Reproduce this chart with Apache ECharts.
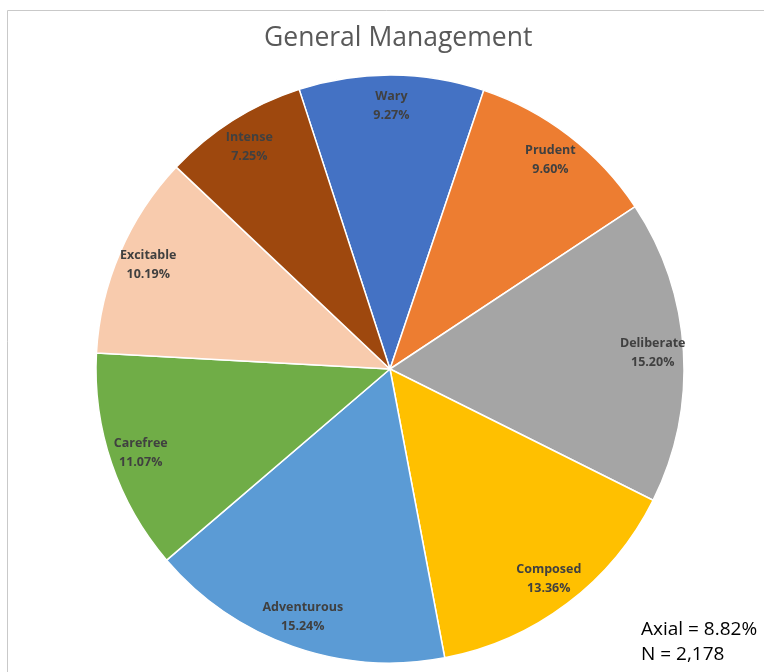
<!DOCTYPE html>
<html>
<head>
<meta charset="utf-8">
<script src="https://cdn.jsdelivr.net/npm/echarts@6/dist/echarts.min.js"></script>
<style>
  html, body { margin: 0; padding: 0; background: #fff; }
  #chart { width: 764px; height: 672px; }
</style>
</head>
<body>
<div id="chart"></div>
<script>
// slices, clockwise from the top
const categories = ['Wary', 'Prudent', 'Deliberate', 'Composed', 'Adventurous', 'Carefree', 'Excitable', 'Intense']
const values = [9.27, 9.60, 15.20, 13.36, 15.24, 11.07, 10.19, 7.25]
const colors = ['#4472C4', '#ED7D31', '#A5A5A5', '#FFC000', '#5B9BD5', '#70AD47', '#F8CBAD', '#9E480E']
const notes = ['Axial = 8.82%', 'N = 2,178']

const chart = echarts.init(document.getElementById('chart'))

const center = [390, 369]
const R = 294
const pieData = categories.map((name, i) => ({ name, value: values[i], itemStyle: { color: colors[i] } }))

const option = {
  animation: false,
  title: {
    text: 'General Management',
    left: 259,
    top: 20,
    textStyle: {
      fontFamily: 'Open Sans',
      fontSize: 26.5,
      fontWeight: 'normal',
      color: '#595959'
    }
  },
  graphic: [
    {
      type: 'rect',
      shape: { x: 7.5, y: 10.5, width: 800, height: 700 },
      style: { fill: 'none', stroke: '#c9c9c9', lineWidth: 1 }
    },
    {
      type: 'text',
      left: 641,
      top: 617,
      style: {
        text: notes.join('\n'),
        font: '19px "Open Sans"',
        lineHeight: 25,
        fill: '#000'
      }
    }
  ],
  series: [
    {
      type: 'pie',
      center,
      radius: R,
      startAngle: 108,
      clockwise: true,
      data: pieData,
      label: { show: false },
      labelLine: { show: false },
      itemStyle: { borderColor: '#fff', borderWidth: 1.5 },
      emphasis: { disabled: true }
    },
    {
      // transparent ring just to place labels near the rim
      type: 'pie',
      center,
      radius: [R * 0.77, R],
      startAngle: 108,
      clockwise: true,
      silent: true,
      data: pieData.map(d => ({ name: d.name, value: d.value, itemStyle: { color: 'transparent' } })),
      itemStyle: { borderWidth: 0 },
      label: {
        show: true,
        position: 'inside',
        formatter: (p) => p.name + '\n' + p.value.toFixed(2) + '%',
        fontFamily: 'Open Sans',
        fontSize: 12.5,
        fontWeight: 'bold',
        lineHeight: 19,
        color: '#404040'
      },
      labelLine: { show: false },
      emphasis: { disabled: true }
    }
  ]
}

chart.setOption(option)
</script>
</body>
</html>
